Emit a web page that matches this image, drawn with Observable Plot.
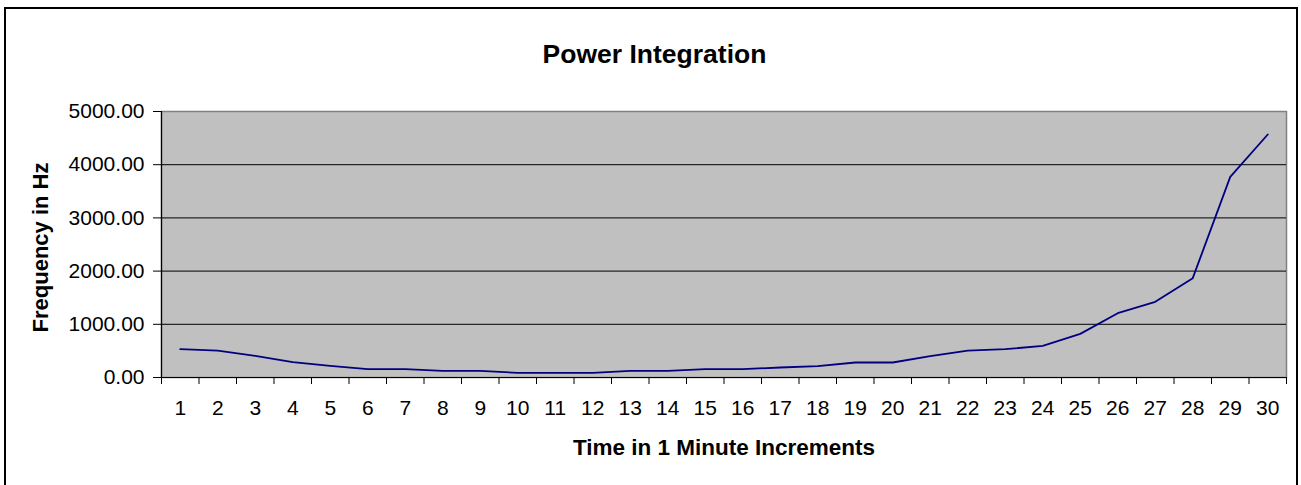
<!DOCTYPE html>
<html>
<head>
<meta charset="utf-8">
<script src="https://cdn.jsdelivr.net/npm/d3@7"></script>
<script src="https://cdn.jsdelivr.net/npm/@observablehq/plot@0.6"></script>
<style>
  html, body { margin: 0; padding: 0; background: #fff; }
  #wrap { position: relative; width: 1301px; height: 485px; overflow: hidden; }
  #border { position: absolute; left: 4px; top: 7px; width: 1290px; height: 500px; border: 2px solid #000; pointer-events: none; }
  svg { font-family: "Liberation Sans", Arial, sans-serif; }
</style>
</head>
<body>
<div id="wrap"><div id="chart"></div><div id="border"></div></div>
<script>
const minutes = [1,2,3,4,5,6,7,8,9,10,11,12,13,14,15,16,17,18,19,20,21,22,23,24,25,26,27,28,29,30];
const frequency = [532, 507, 408, 288, 219, 157, 157, 125, 125, 88, 88, 88, 125, 125, 157, 157, 188, 213, 282, 282, 400, 507, 532, 595, 820, 1209, 1422, 1867, 3772, 4568];
const yTicks = [0, 1000, 2000, 3000, 4000, 5000];
const gridTicks = [1000, 2000, 3000, 4000];
const chartTitle = "Power Integration";
const xTitle = "Time in 1 Minute Increments";
const yTitle = "Frequency in Hz";

const data = minutes.map((m, i) => ({minute: m, freq: frequency[i]}));
const boundaries = [...minutes.map(m => m - 0.5), minutes[minutes.length - 1] + 0.5];

const chart = Plot.plot({
  width: 1301,
  height: 485,
  marginLeft: 161,
  marginRight: 15,
  marginTop: 111,
  marginBottom: 108,
  style: {background: "transparent", fontFamily: "'Liberation Sans', Arial, sans-serif", color: "#000"},
  x: {type: "linear", domain: [0.5, 30.5]},
  y: {domain: [0, 5000]},
  marks: [
    Plot.frame({fill: "#c0c0c0", stroke: "#808080", strokeWidth: 1.5}),
    Plot.gridY(gridTicks, {stroke: "#000", strokeOpacity: 1, strokeWidth: 1}),
    Plot.ruleY([0], {stroke: "#000", strokeWidth: 1.2}),
    Plot.ruleX([0.5], {stroke: "#000", strokeWidth: 1.2}),
    Plot.line(data, {x: "minute", y: "freq", stroke: "#000080", strokeWidth: 1.8}),
    Plot.axisY(yTicks, {tickSize: 8, tickPadding: 9, fontSize: 21, tickFormat: d => d.toFixed(2), label: null, stroke: "#000"}),
    Plot.axisX(minutes, {tickSize: 0, tickPadding: 23, fontSize: 21, tickFormat: d => String(d), label: null}),
    Plot.axisX(boundaries, {tickSize: 7, tickFormat: () => "", label: null, stroke: "#000"}),
    Plot.text([chartTitle], {frameAnchor: "top", textAnchor: "middle", dx: -69.5, dy: -67, fontSize: 26.5, fontWeight: "bold", fill: "#000"}),
    Plot.text([xTitle], {frameAnchor: "bottom", textAnchor: "middle", dy: 77, fontSize: 22.5, fontWeight: "bold", fill: "#000"}),
    Plot.text([yTitle], {frameAnchor: "left", textAnchor: "middle", dx: -121, dy: 3, rotate: -90, fontSize: 22, fontWeight: "bold", fill: "#000"})
  ]
});
document.getElementById("chart").appendChild(chart);
</script>
</body>
</html>
